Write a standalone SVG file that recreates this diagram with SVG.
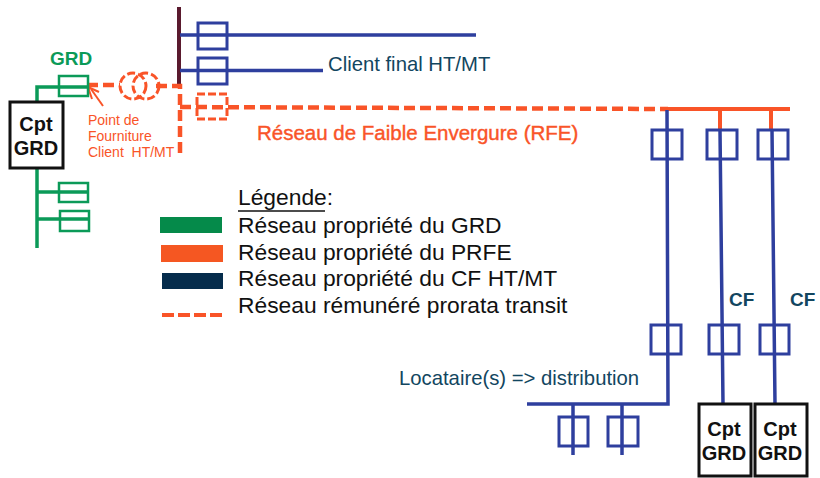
<svg xmlns="http://www.w3.org/2000/svg" width="820" height="478" viewBox="0 0 820 478">
<style>
text{font-family:"Liberation Sans",Arial,sans-serif}
.g{fill:none;stroke:#0b9a58;stroke-width:3.5}
.gb{fill:none;stroke:#0b9a58;stroke-width:2.5}
.b{fill:none;stroke:#2e3f9e;stroke-width:3.5}
.bb{fill:none;stroke:#2e3f9e;stroke-width:3}
.o{fill:none;stroke:#f95428;stroke-width:4}
.od{fill:none;stroke:#f95428;stroke-width:4.5;stroke-dasharray:11 5}
.ot{fill:none;stroke:#f95428;stroke-width:3;stroke-dasharray:8 3}
.cpt{fill:#fff;stroke:#111;stroke-width:3}
.cl{font-size:20px;font-weight:700;fill:#111;text-anchor:middle}
.leg{font-size:22.800px;fill:#111}
.teal{fill:#12465f}
</style>
<rect width="820" height="478" fill="#fff"/>
<g id="connectors">
<path d="M179 7V86" fill="none" stroke="#5a1a2e" stroke-width="4"/>
<path class="b" d="M180 35H476M180 70.500H323"/>
<path class="g" d="M37 101V87H87M37 168V248M37 192H88M37 219H89"/>
<path class="od" d="M87 85H120M156 86H180V153"/>
<path class="od" d="M180 107L668 109"/>
<path class="o" d="M666 109H790M720 109V130M771 109V130"/>
<path class="b" d="M667 110L668 404H527M720 130L723 404M772 130L775 404M573 404V455M622 404V455"/>
<path d="M91 89L103 106" fill="none" stroke="#f95428" stroke-width="2"/>
<path d="M88 87L99 92M88 87L92 99" fill="none" stroke="#f95428" stroke-width="2"/>
</g>
<g id="transformer"><circle class="ot" cx="133" cy="86" r="13"/><circle class="ot" cx="146" cy="86" r="13"/></g>
<g id="disj-client-1"><rect class="bb" x="198" y="23" width="29" height="26"/></g>
<g id="disj-client-2"><rect class="bb" x="198" y="58" width="29" height="26"/></g>
<g id="disj-rfe"><rect class="ot" x="197" y="94" width="30" height="25"/></g>
<g id="disj-grd-top"><rect class="gb" x="59" y="76" width="29" height="20"/></g>
<g id="disj-grd-2"><rect class="gb" x="59" y="183" width="29" height="19"/></g>
<g id="disj-grd-3"><rect class="gb" x="60" y="211" width="29" height="20"/></g>
<g id="disj-a1"><rect class="bb" x="652" y="130" width="30" height="29"/></g>
<g id="disj-a2"><rect class="bb" x="707" y="130" width="30" height="29"/></g>
<g id="disj-a3"><rect class="bb" x="758" y="130" width="30" height="29"/></g>
<g id="disj-b1"><rect class="bb" x="651" y="325" width="30" height="29"/></g>
<g id="disj-b2"><rect class="bb" x="709" y="325" width="30" height="29"/></g>
<g id="disj-b3"><rect class="bb" x="760" y="325" width="29" height="29"/></g>
<g id="disj-c1"><rect class="bb" x="559" y="417" width="29" height="29"/></g>
<g id="disj-c2"><rect class="bb" x="608" y="417" width="30" height="29"/></g>
<g id="cpt-grd-left"><rect class="cpt" x="10" y="102" width="53" height="66"/><text class="cl" x="36" y="131">Cpt</text><text class="cl" x="36" y="155">GRD</text></g>
<g id="cpt-grd-2"><rect class="cpt" x="699" y="404" width="52" height="72"/><text class="cl" x="724" y="436">Cpt</text><text class="cl" x="724" y="460">GRD</text></g>
<g id="cpt-grd-3"><rect class="cpt" x="755" y="404" width="52" height="72"/><text class="cl" x="780" y="436">Cpt</text><text class="cl" x="780" y="460">GRD</text></g>
<g id="labels">
<text x="50" y="65" font-size="19" font-weight="700" fill="#0b9a58">GRD</text>
<text x="88" y="125" font-size="14" fill="#f95428">Point de</text>
<text x="88" y="141" font-size="14" fill="#f95428">Fourniture</text>
<text x="88" y="157" font-size="14" fill="#f95428" xml:space="preserve">Client  HT/MT</text>
<text x="328" y="71" font-size="20.300" class="teal">Client final HT/MT</text>
<text x="257" y="140" font-size="20.500" fill="#f95428" stroke="#f95428" stroke-width=".4">Réseau de Faible Envergure (RFE)</text>
<text x="729" y="306" font-size="19" font-weight="700" class="teal">CF</text>
<text x="790" y="306" font-size="19" font-weight="700" class="teal">CF</text>
<text x="399" y="385" font-size="20.300" class="teal">Locataire(s) =&gt; distribution</text>
</g>
<g id="legend">
<text x="238" y="205" class="leg">Légende:</text>
<path d="M238 211H325" stroke="#111" stroke-width="1.500"/>
<rect x="160" y="217" width="62" height="16" fill="#058a4a"/>
<rect x="161" y="245" width="62" height="17" fill="#f55722"/>
<rect x="162" y="273" width="61" height="16" fill="#052c4c"/>
<path d="M162 315H225" fill="none" stroke="#f95428" stroke-width="4" stroke-dasharray="12 4"/>
<text x="238" y="233" class="leg">Réseau propriété du GRD</text>
<text x="238" y="260" class="leg">Réseau propriété du PRFE</text>
<text x="238" y="286" class="leg">Réseau propriété du CF HT/MT</text>
<text x="238" y="313" class="leg">Réseau rémunéré prorata transit</text>
</g>
</svg>
